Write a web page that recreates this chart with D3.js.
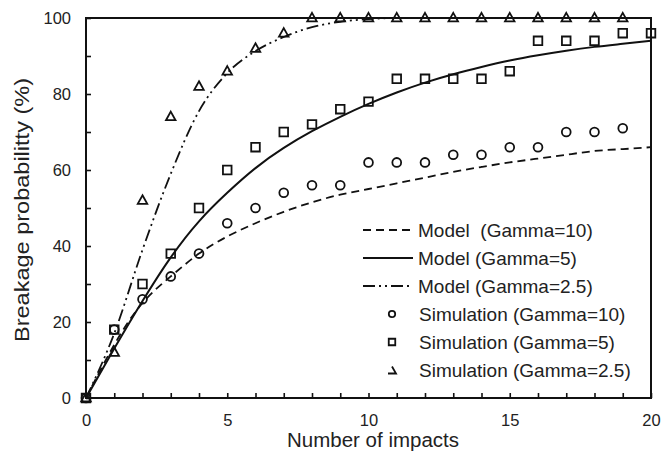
<!DOCTYPE html>
<html>
<head>
<meta charset="utf-8">
<script src="https://cdn.jsdelivr.net/npm/d3@7"></script>
<style>
  html, body { margin: 0; padding: 0; background: #fff; }
  svg { display: block; font-family: "Liberation Sans", Arial, sans-serif; }
  text { white-space: pre; }
</style>
</head>
<body>
<svg id="chart" width="662" height="454"></svg>
<script>
// Number of impacts (x) for every series
const impacts = d3.range(0, 21);

// Model curves, breakage probability (%) at each impact count
const modelGamma10  = [0, 14, 25, 32, 38, 42.5, 46, 49, 51.5, 53.5, 55, 56.5, 58, 59.5, 60.8, 62, 63, 64, 65, 65.5, 66];
const modelGamma5   = [0, 13, 25.5, 37, 46.5, 54, 60.5, 65.8, 70.2, 74, 77.4, 80.4, 83, 85.2, 87.1, 88.8, 90.2, 91.4, 92.4, 93.2, 94];
const modelGamma2_5 = [0, 17, 39, 59, 75.5, 85.5, 91.3, 95, 97.6, 99, 99.7, 100, 100, 100, 100, 100, 100, 100, 100, 100, 100];

// Simulation results (%)
const simImpacts10 = d3.range(0, 20);
const simGamma10   = [0, 18, 26, 32, 38, 46, 50, 54, 56, 56, 62, 62, 62, 64, 64, 66, 66, 70, 70, 71];
const simImpacts5  = d3.range(0, 21);
const simGamma5    = [0, 18, 30, 38, 50, 60, 66, 70, 72, 76, 78, 84, 84, 84, 84, 86, 94, 94, 94, 96, 96];
const simImpacts2_5 = d3.range(0, 20);
const simGamma2_5  = [0, 12, 52, 74, 82, 86, 92, 96, 100, 100, 100, 100, 100, 100, 100, 100, 100, 100, 100, 100];

const xTickValues = d3.range(0, 21, 1);
const xTickLabels = [0, 5, 10, 15, 20];
const yTickValues = d3.range(0, 101, 10);
const yTickLabels = [0, 20, 40, 60, 80, 100];

const legendLabels = [
  "Model  (Gamma=10)",
  "Model (Gamma=5)",
  "Model (Gamma=2.5)",
  "Simulation (Gamma=10)",
  "Simulation (Gamma=5)",
  "Simulation (Gamma=2.5)"
];

const svg = d3.select("#chart");
const margin = { left: 86, top: 18, right: 11, bottom: 56 };
const W = 662, H = 454;
const x = d3.scaleLinear().domain([0, 20]).range([margin.left, W - margin.right]);
const y = d3.scaleLinear().domain([0, 100]).range([H - margin.bottom, margin.top]);

const dashStyles = {
  g10: "8,5",
  g5: null,
  g25: "12,4,2,4,2,4"
};

// Axes with inward ticks
const xAxis = d3.axisBottom(x).tickValues(xTickValues).tickSizeInner(-5).tickSizeOuter(0)
  .tickFormat(d => xTickLabels.includes(d) ? d : "");
const yAxis = d3.axisLeft(y).tickValues(yTickValues).tickSizeInner(-5).tickSizeOuter(0)
  .tickFormat(d => yTickLabels.includes(d) ? d : "");

const gx = svg.append("g").attr("transform", `translate(0,${y(0)})`).call(xAxis);
gx.select(".domain").remove();
gx.selectAll(".tick line").attr("stroke", "#111").attr("stroke-width", 1.6);
gx.selectAll(".tick text").attr("font-size", 16.5).attr("fill", "#222")
  .attr("font-family", "Liberation Sans, Arial, sans-serif").attr("dy", null).attr("y", 28);

const gy = svg.append("g").attr("transform", `translate(${x(0)},0)`).call(yAxis);
gy.select(".domain").remove();
gy.selectAll(".tick line").attr("stroke", "#111").attr("stroke-width", 1.6);
gy.selectAll(".tick text").attr("font-size", 16.5).attr("fill", "#222")
  .attr("font-family", "Liberation Sans, Arial, sans-serif").attr("x", -15).attr("dy", "0.35em");

// Plot frame
svg.append("rect")
  .attr("x", x(0)).attr("y", y(100))
  .attr("width", x(20) - x(0)).attr("height", y(0) - y(100))
  .attr("fill", "none").attr("stroke", "#111").attr("stroke-width", 2);

// Axis titles
svg.append("text")
  .attr("x", 373).attr("y", 447)
  .attr("text-anchor", "middle").attr("font-size", 20).attr("fill", "#222")
  .attr("textLength", 172).attr("lengthAdjust", "spacingAndGlyphs")
  .text("Number of impacts");
svg.append("text")
  .attr("transform", `translate(29,${(y(0) + y(100)) / 2 + 2}) rotate(-90)`)
  .attr("text-anchor", "middle").attr("font-size", 20.5).attr("fill", "#222")
  .attr("textLength", 264).attr("lengthAdjust", "spacingAndGlyphs")
  .text("Breakage probabilitty (%)");

// Model curves
const smooth = d3.line().x(d => x(d[0])).y(d => y(d[1])).curve(d3.curveNatural);
const mono = d3.line().x(d => x(d[0])).y(d => y(d[1])).curve(d3.curveMonotoneX);
const models = [
  { vals: modelGamma10, dash: dashStyles.g10, w: 1.8, gen: smooth },
  { vals: modelGamma5, dash: dashStyles.g5, w: 2, gen: smooth },
  { vals: modelGamma2_5, dash: dashStyles.g25, w: 1.8, gen: mono }
];
models.forEach(m => {
  svg.append("path")
    .datum(impacts.map((n, i) => [n, m.vals[i]]))
    .attr("d", m.gen)
    .attr("fill", "none").attr("stroke", "#111").attr("stroke-width", m.w)
    .attr("stroke-dasharray", m.dash);
});

// Marker shapes
function triPath(s) {
  const h = s * 0.9;
  return `M0,${-h * 0.6}L${s / 2},${h * 0.4}L${-s / 2},${h * 0.4}Z`;
}
function sqPath(s) {
  return `M${-s / 2},${-s / 2}h${s}v${s}h${-s}Z`;
}

const gSim = svg.append("g").attr("fill", "none").attr("stroke", "#111").attr("stroke-width", 1.8);
gSim.selectAll("circle.s10").data(simImpacts10.map((n, i) => [n, simGamma10[i]]))
  .join("circle").attr("class", "s10")
  .attr("cx", d => x(d[0])).attr("cy", d => y(d[1])).attr("r", 4.4);
gSim.selectAll("path.s5").data(simImpacts5.map((n, i) => [n, simGamma5[i]]))
  .join("path").attr("class", "s5")
  .attr("transform", d => `translate(${x(d[0])},${y(d[1])})`).attr("d", sqPath(8.6));
gSim.selectAll("path.s25").data(simImpacts2_5.map((n, i) => [n, simGamma2_5[i]]))
  .join("path").attr("class", "s25")
  .attr("transform", d => `translate(${x(d[0])},${y(d[1])})`).attr("d", triPath(9.5));

// Legend
const legend = svg.append("g").attr("transform", "translate(363,230)");
const rowH = 28;
legendLabels.forEach((lab, i) => {
  const row = legend.append("g").attr("transform", `translate(0,${i * rowH})`);
  if (i < 3) {
    row.append("line").attr("x1", 0).attr("x2", 50).attr("y1", 0).attr("y2", 0)
      .attr("stroke", "#111").attr("stroke-width", models[i].w)
      .attr("stroke-dasharray", models[i].dash);
  } else if (i === 3) {
    row.append("circle").attr("cx", 29).attr("cy", 0).attr("r", 3.2)
      .attr("fill", "none").attr("stroke", "#111").attr("stroke-width", 1.8);
  } else if (i === 4) {
    row.append("path").attr("transform", "translate(29,0)").attr("d", sqPath(6.5))
      .attr("fill", "none").attr("stroke", "#111").attr("stroke-width", 1.8);
  } else {
    row.append("path").attr("transform", "translate(29,0)").attr("d", "M-4,3.5H4L0,-3.5")
      .attr("fill", "none").attr("stroke", "#111").attr("stroke-width", 1.8);
  }
  row.append("text").attr("x", i < 3 ? 55 : 56).attr("y", 0).attr("dy", "0.35em")
    .attr("font-size", 19).attr("fill", "#222").text(lab);
});
</script>
</body>
</html>
